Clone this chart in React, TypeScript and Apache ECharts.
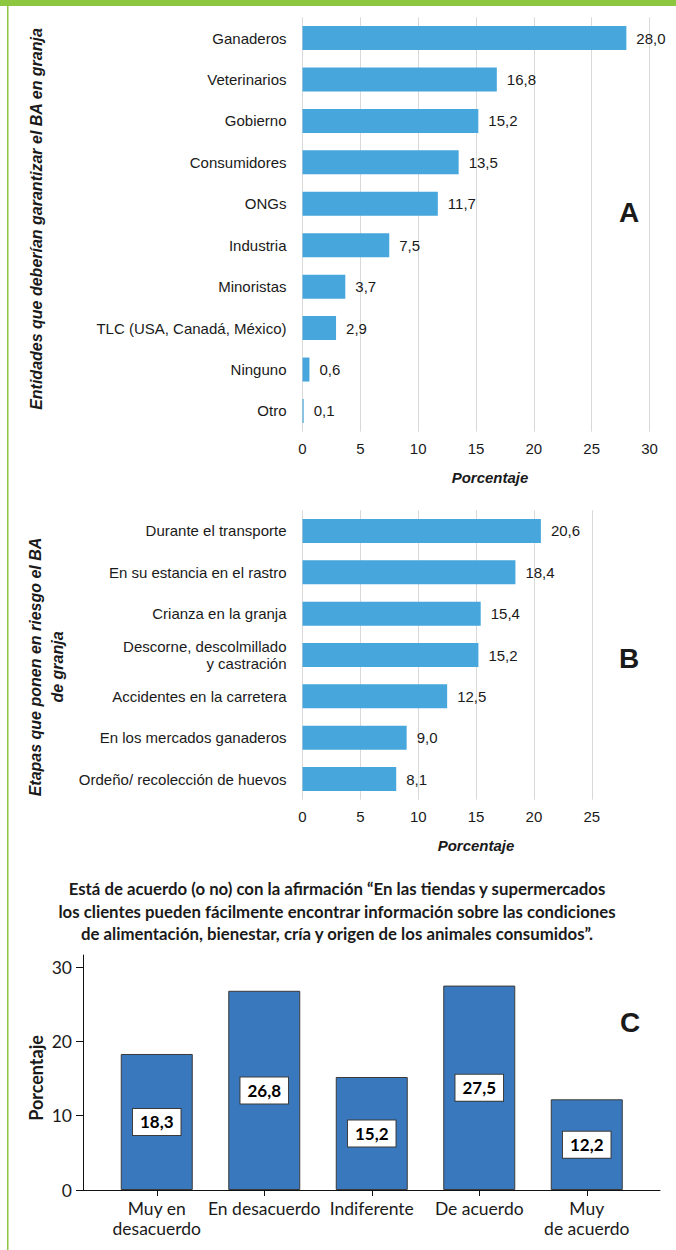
import React, { useEffect, useRef } from "react";
import * as echarts from "echarts";

const catsA = ["Ganaderos", "Veterinarios", "Gobierno", "Consumidores", "ONGs", "Industria", "Minoristas", "TLC (USA, Canadá, México)", "Ninguno", "Otro"];
const valsA = [28.0, 16.8, 15.2, 13.5, 11.7, 7.5, 3.7, 2.9, 0.6, 0.1];

const catsB = ["Durante el transporte", "En su estancia en el rastro", "Crianza en la granja", "Descorne, descolmillado\ny castración", "Accidentes en la carretera", "En los mercados ganaderos", "Ordeño/ recolección de huevos"];
const valsB = [20.6, 18.4, 15.4, 15.2, 12.5, 9.0, 8.1];

const catsC = ["Muy en\ndesacuerdo", "En desacuerdo", "Indiferente", "De acuerdo", "Muy\nde acuerdo"];
const valsC = [18.3, 26.8, 15.2, 27.5, 12.2];

const titleC = "Está de acuerdo (o no) con la afirmación “En las tiendas y supermercados\nlos clientes pueden fácilmente encontrar información sobre las condiciones\nde alimentación, bienestar, cría y origen de los animales consumidos”.";

const NARROW = "'Liberation Sans Narrow', 'Liberation Sans', Arial, sans-serif";
const HUM = "Lato, 'Open Sans', sans-serif";
const TXT = "#1a1a1a";
const GREEN = "#8dc63f";
const BLUE = "#47a6dc";
const DBLUE = "#3a78bd";
const FS = 15;
const FSC = 17.5;

const fmt = (v: number) => v.toFixed(1).replace(".", ",");

function txt(x: number, y: number, text: string, o: any = {}) {
  return {
    type: "text",
    x,
    y,
    rotation: o.rotation || 0,
    silent: true,
    style: {
      text,
      fontFamily: o.fontFamily || NARROW,
      fontSize: o.fontSize || FS,
      fontWeight: o.fontWeight || "normal",
      fontStyle: o.fontStyle || "normal",
      fill: o.fill || TXT,
      lineHeight: o.lineHeight,
      align: "center",
      verticalAlign: "middle",
      textAlign: "center",
      textVerticalAlign: "middle",
    },
  };
}

export default function App() {
  const ref = useRef<HTMLDivElement>(null);
  useEffect(() => {
    const chart = echarts.init(ref.current!, undefined, { renderer: "svg" });
    const hBarX = (max: number, gi: number) => ({
      type: "value",
      gridIndex: gi,
      min: 0,
      max,
      interval: 5,
      axisLine: { show: false },
      axisTick: { show: false },
      splitLine: { show: true, lineStyle: { color: "#d9d9d9", width: 1 } },
      axisLabel: { fontFamily: NARROW, fontSize: FS, color: TXT, margin: 9 },
    });
    const hBarY = (cats: string[], gi: number) => ({
      type: "category",
      gridIndex: gi,
      data: cats,
      inverse: true,
      axisLine: { show: false },
      axisTick: { show: false },
      axisLabel: { fontFamily: NARROW, fontSize: FS, color: TXT, margin: 16, lineHeight: 17, interval: 0 },
    });
    const hLabel = {
      show: true,
      position: "right",
      distance: 10,
      fontFamily: NARROW,
      fontSize: FS,
      color: TXT,
      formatter: (p: any) => fmt(p.value),
    };
    chart.setOption({
      animation: false,
      grid: [
        { left: 302.5, width: 347, top: 17.3, height: 414.4 },
        { left: 302.5, width: 289.3, top: 510.3, height: 289.4 },
        { left: 83, width: 577, top: 955, height: 235 },
        { left: 103, width: 537.5, top: 967, height: 223 },
      ],
      xAxis: [
        hBarX(30, 0),
        hBarX(25, 1),
        {
          type: "value", gridIndex: 2, min: 0, max: 1,
          axisLine: { show: true, lineStyle: { color: "#111", width: 1 } },
          axisTick: { show: false }, axisLabel: { show: false }, splitLine: { show: false },
        },
        {
          type: "category", gridIndex: 3, data: catsC,
          axisLine: { show: false },
          axisTick: { show: true, alignWithLabel: true, length: 6, lineStyle: { color: "#111" } },
          axisLabel: { fontFamily: HUM, fontSize: FSC, color: TXT, margin: 8, lineHeight: 20, interval: 0 },
        },
      ],
      yAxis: [
        hBarY(catsA, 0),
        hBarY(catsB, 1),
        {
          type: "value", gridIndex: 2, min: 0, max: 31.6,
          axisLine: { show: true, lineStyle: { color: "#111", width: 1 } },
          axisTick: { show: false }, axisLabel: { show: false }, splitLine: { show: false },
        },
        {
          type: "value", gridIndex: 3, min: 0, max: 30, interval: 10, offset: 20,
          axisLine: { show: false },
          axisTick: { show: true, length: 7, lineStyle: { color: "#111" } },
          splitLine: { show: false },
          axisLabel: { fontFamily: HUM, fontSize: FSC, color: TXT, margin: 11 },
        },
      ],
      series: [
        { type: "bar", xAxisIndex: 0, yAxisIndex: 0, data: valsA, barWidth: 24, itemStyle: { color: BLUE }, label: hLabel },
        { type: "bar", xAxisIndex: 1, yAxisIndex: 1, data: valsB, barWidth: 24, itemStyle: { color: BLUE }, label: hLabel },
        {
          type: "bar", xAxisIndex: 3, yAxisIndex: 3, data: valsC, barWidth: 72,
          itemStyle: { color: DBLUE, borderColor: "#3a3a3a", borderWidth: 1 },
          label: {
            show: true, position: "inside", fontFamily: HUM, fontSize: 17, fontWeight: "bold", color: "#000",
            backgroundColor: "#fff", borderColor: "#3a3a3a", borderWidth: 1, padding: [5, 7, 4, 7],
            formatter: (p: any) => fmt(p.value),
          },
        },
      ],
      graphic: [
        { type: "rect", silent: true, shape: { x: 0, y: 0, width: 676, height: 6 }, style: { fill: GREEN } },
        { type: "rect", silent: true, shape: { x: 7, y: 6, width: 1.5, height: 1244 }, style: { fill: GREEN } },
        txt(36, 219, "Entidades que deberían garantizar el BA en granja", { rotation: Math.PI / 2, fontWeight: "bold", fontStyle: "italic", fontSize: 16 }),
        txt(46, 667, "Etapas que ponen en riesgo el BA\nde granja", { rotation: Math.PI / 2, fontWeight: "bold", fontStyle: "italic", fontSize: 16, lineHeight: 22 }),
        txt(490, 477, "Porcentaje", { fontWeight: "bold", fontStyle: "italic" }),
        txt(476, 845, "Porcentaje", { fontWeight: "bold", fontStyle: "italic" }),
        txt(629, 212, "A", { fontWeight: "bold", fontSize: 28 }),
        txt(629, 658, "B", { fontWeight: "bold", fontSize: 28 }),
        txt(630, 1022, "C", { fontWeight: "bold", fontSize: 28 }),
        txt(337, 911, titleC, { fontFamily: HUM, fontWeight: "bold", fontSize: 16.8, lineHeight: 22.5 }),
        txt(36, 1078, "Porcentaje", { fontFamily: HUM, fontWeight: "bold", fontSize: 18, rotation: Math.PI / 2 }),
      ],
    });
    return () => chart.dispose();
  }, []);
  return (
    <div
      ref={ref}
      style={{ position: "absolute", left: 0, top: 0, width: 676, height: 1250, background: "#fff" }}
    />
  );
}
